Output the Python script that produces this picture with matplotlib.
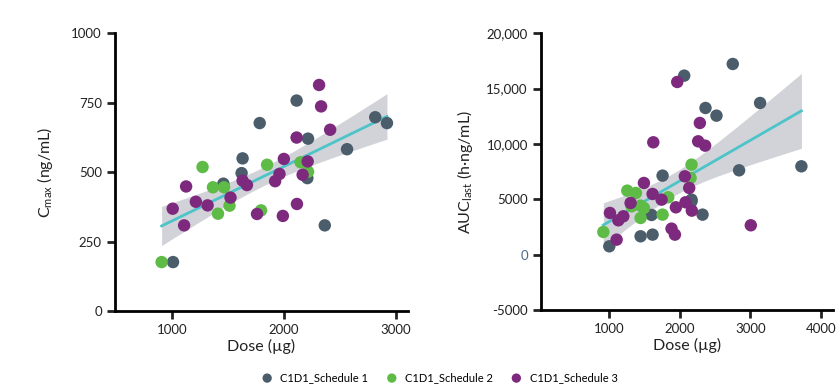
import numpy as np
import matplotlib.pyplot as plt

plt.rcParams['font.family'] = ['Lato', 'DejaVu Sans']
plt.rcParams['mathtext.fontset'] = 'custom'
plt.rcParams['mathtext.rm'] = 'Lato'

# Cmax (ng/mL) vs dose (ug), by schedule
s1_dose_c = [1009, 1459, 1631, 1622, 1784, 2114, 2216, 2210, 2565, 2366, 2817, 2922]
s1_cmax = [176, 458, 549, 496, 676, 757, 620, 478, 582, 308, 697, 676]
s2_dose_c = [907, 1273, 1366, 1465, 1411, 1514, 1796, 1850, 2150, 2216]
s2_cmax = [176, 518, 445, 445, 350, 379, 362, 526, 535, 501]
s3_dose_c = [1006, 1108, 1126, 1213, 1318, 1523, 1631, 1670, 1760, 1922,
             1961, 2000, 1991, 2114, 2117, 2168, 2213, 2315, 2333, 2414]
s3_cmax = [368, 308, 448, 393, 380, 408, 469, 453, 349, 467,
           493, 547, 342, 624, 385, 490, 538, 813, 736, 652]

# AUClast (h*ng/mL) vs dose (ug), by schedule
s1_dose_a = [1000, 1444, 1614, 1600, 1756, 2063, 2167, 2167, 2323, 2365,
             2521, 2752, 2842, 3140, 3726]
s1_auc = [753, 1657, 1807, 3584, 7139, 16175, 4970, 4820, 3614, 13253,
          12560, 17229, 7620, 13705, 7982]
s2_dose_a = [915, 1255, 1378, 1316, 1444, 1491, 1444, 1756, 1836, 2153, 2167]
s2_auc = [2048, 5783, 5572, 4367, 4428, 4217, 3313, 3614, 5181, 6928, 8133]
s3_dose_a = [1009, 1104, 1128, 1199, 1302, 1491, 1624, 1614, 1742, 1883,
             1931, 1945, 1964, 2072, 2082, 2134, 2171, 2285, 2261, 2360, 3008]
s3_auc = [3765, 1355, 3102, 3464, 4669, 6476, 10151, 5482, 4970, 2349,
          1807, 4277, 15602, 7078, 4729, 6024, 3976, 11898, 10241, 9849, 2651]

labels = ['C1D1_Schedule 1', 'C1D1_Schedule 2', 'C1D1_Schedule 3']
colors = ['#4b5d6b', '#5dbb46', '#7d2a7e']


def fit_band(ax, xs, ys):
    # linear fit + 95% confidence band, like seaborn regplot
    x = np.array(xs, float)
    y = np.array(ys, float)
    n = len(x)
    b, a = np.polyfit(x, y, 1)
    grid = np.linspace(x.min(), x.max(), 100)
    pred = a + b * grid
    resid = y - (a + b * x)
    s = np.sqrt(np.sum(resid ** 2) / (n - 2))
    se = s * np.sqrt(1 / n + (grid - x.mean()) ** 2 / np.sum((x - x.mean()) ** 2))
    t = 2.02
    ax.fill_between(grid, pred - t * se, pred + t * se, color='#d2d3d8', lw=0, zorder=1)
    ax.plot(grid, pred, color='#4cc4c9', lw=2, zorder=2)


def style(ax):
    for sp in ['top', 'right']:
        ax.spines[sp].set_visible(False)
    for sp in ['left', 'bottom']:
        ax.spines[sp].set_linewidth(2)
    ax.tick_params(width=2, length=6, labelsize=9.5, colors='#222222')
    ax.set_xlabel('Dose (µg)', fontsize=11.5, color='#222222', labelpad=2)


fig = plt.figure(figsize=(8.4, 3.86), dpi=100)
ax1 = fig.add_axes([0.1369, 0.1943, 0.3488, 0.7202])
ax2 = fig.add_axes([0.644, 0.197, 0.3477, 0.7167])

groups_c = [(s1_dose_c, s1_cmax), (s2_dose_c, s2_cmax), (s3_dose_c, s3_cmax)]
groups_a = [(s1_dose_a, s1_auc), (s2_dose_a, s2_auc), (s3_dose_a, s3_auc)]

fit_band(ax1, sum([g[0] for g in groups_c], []), sum([g[1] for g in groups_c], []))
fit_band(ax2, sum([g[0] for g in groups_a], []), sum([g[1] for g in groups_a], []))

for (xd, yd), c, lab in zip(groups_c, colors, labels):
    ax1.scatter(xd, yd, s=80, color=c, edgecolors='none', zorder=3, label=lab)
for (xd, yd), c in zip(groups_a, colors):
    ax2.scatter(xd, yd, s=80, color=c, edgecolors='none', zorder=3)

ax1.set_xlim(490, 3110)
ax1.set_ylim(0, 1000)
ax1.set_xticks([1000, 2000, 3000])
ax1.set_yticks([0, 250, 500, 750, 1000])
ax1.set_ylabel('C$_{\\mathrm{max}}$ (ng/mL)', fontsize=11.5, color='#222222', labelpad=12)
style(ax1)

ax2.set_xlim(30, 4175)
ax2.set_ylim(-5000, 20000)
ax2.set_xticks([1000, 2000, 3000, 4000])
ax2.set_yticks([-5000, 0, 5000, 10000, 15000, 20000])
ax2.set_yticklabels(['-5000', '0', '5000', '10,000', '15,000', '20,000'])
ax2.set_ylabel('AUC$_{\\mathrm{last}}$ (h·ng/mL)', fontsize=11.5, color='#222222', labelpad=8)
style(ax2)
ax2.get_yticklabels()[1].set_color('#4a6a8a')

fig.legend(loc='center', bbox_to_anchor=(0.52, 0.022), ncol=3, frameon=False,
           fontsize=8, handletextpad=0.2, columnspacing=1.1, markerscale=0.75)

fig.savefig('out.png', dpi=100)
